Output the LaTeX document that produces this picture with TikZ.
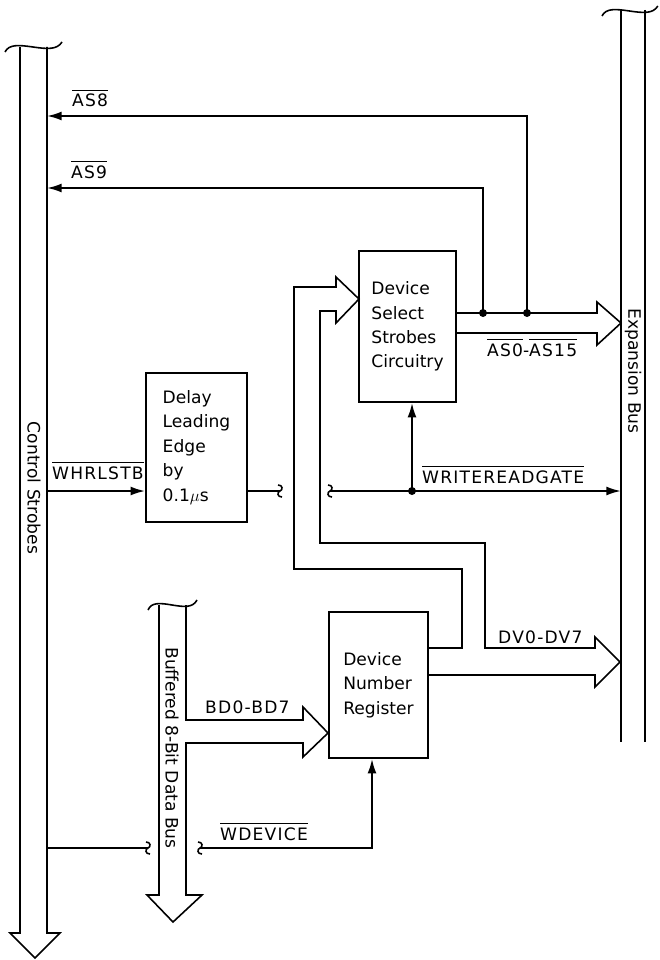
\documentclass[tikz,border=0pt]{standalone}
\usepackage{amsmath}
\usepackage{fontspec}
\setmainfont{DejaVu Sans}
\newfontfamily\sigfont[LetterSpace=7]{DejaVu Sans}
\usetikzlibrary{arrows.meta}
\newcommand\ovl[1]{\leavevmode\vbox{\hrule height 0.9pt \kern 2.6pt \hbox{#1}}}

\begin{document}
\begin{tikzpicture}[x=0.3mm, y=-0.3mm,
    font=\fontsize{14.6}{20.8}\selectfont,
    bline/.style={line width=1.35pt},
    sline/.style={line width=1.8pt},
    sig/.style={sline, -{Latex[length=4.4mm,width=2.7mm]}},
    blk/.style={draw, line width=1.35pt, align=left, inner sep=0pt},
    lbl/.style={font=\sigfont\fontsize{14.6}{17}\selectfont, inner sep=0pt, anchor=base west},
    vlbl/.style={rotate=-90, inner sep=0pt},
    dot/.style={circle, fill, inner sep=0pt, minimum size=2.4mm},
    buscap/.pic={\draw[bline] (0,5) .. controls (4,-3) and (14,-2) .. (28,0) .. controls (42,2) and (52,3) .. (57,-5);},
    brkmark/.pic={\draw[bline] (-2,-6) .. controls (3,-6) and (3,-1) .. (0,0) .. controls (-3,1) and (-3,6) .. (2,6);}]
    \useasboundingbox (0,0) rectangle (659,960);
    % Control Strobes
    \draw[bline] (20,47) -- (20,933) -- (10,933) -- (35,958) -- (60,933) -- (47,933) -- (47,47);
    \pic at (5,47) {buscap};
    \node[vlbl] (cslbl) at (34,488) {Control Strobes};
    \coordinate (cs8) at (47,116);
    \coordinate (cs9) at (47,188);
    \coordinate (cswh) at (47,491);
    \coordinate (cswd) at (47,848);
    % Expansion Bus
    \draw[bline] (621,10) -- (621,742);
    \draw[bline] (645,10) -- (645,742);
    \pic[xscale=0.98] at (602,11) {buscap};
    \node[vlbl] (exlbl) at (633,371) {Expansion Bus};
    \coordinate (exwr) at (621,491);
    % Buffered 8-Bit Data Bus
    \draw[bline] (186,605) -- (186,720) -- (303,720) -- (303,707) -- (328,733) -- (303,757)
      -- (303,743) -- (186,743) -- (186,895) -- (202,895) -- (173,922) -- (147,895)
      -- (159,895) -- (159,605);
    \pic[xscale=0.86] at (148,605) {buscap};
    \node[vlbl] (bdlbl) at (172,748) {Buffered 8-Bit Data Bus};
    % Blocs
    \node[blk, minimum width=29.1mm, minimum height=45.3mm] (dss) at (407.5,326.5)
      {Device\\Select\\Strobes\\Circuitry};
    \node[blk, minimum width=30.3mm, minimum height=44.7mm] (dly) at (196.5,447.5)
      {Delay\\Leading\\Edge\\by\\0.1$\mu$s};
    \node[blk, minimum width=29.7mm, minimum height=43.8mm] (dnr) at (378.5,685)
      {Device\\Number\\Register};
    % Wide buses
    \draw[bline] (456,313) -- (597,313) -- (597,302) -- (621,323) -- (597,345) -- (597,333) -- (456,333);
    \draw[bline] (428,648) -- (462,648) -- (462,569) -- (294,569) -- (294,287) -- (336,287)
      -- (336,277) -- (359,299) -- (336,323) -- (336,311) -- (320,311) -- (320,543)
      -- (485,543) -- (485,648) -- (595,648) -- (595,637) -- (620,662) -- (595,687)
      -- (595,675) -- (428,675);
    % Signals
    \node[dot] (d9) at (483,313) {};
    \node[dot] (d8) at (527,313) {};
    \node[dot] (dwr) at (412,491) {};
    \coordinate (bk1) at (280,491);
    \coordinate (bk2) at (330,491);
    \coordinate (bk3) at (148,848);
    \coordinate (bk4) at (200,848);
    \coordinate (wdv) at (372,848);
    \draw[sig] (d8.center) |- (cs8);
    \draw[sig] (d9.center) |- (cs9);
    \draw[sig] (cswh) -- (dly.west |- cswh);
    \draw[sline] (dly.east |- cswh) -- (bk1);
    \draw[sig] (bk2) -- (exwr);
    \draw[sig] (dwr.center) -- (dss.south -| dwr);
    \draw[sline] (cswd) -- (bk3);
    \draw[sig] (bk4) -- (wdv) -- (dnr.south -| wdv);
    \pic at (bk1) {brkmark};
    \pic at (bk2) {brkmark};
    \pic at (bk3) {brkmark};
    \pic at (bk4) {brkmark};
    % Labels
    \node[lbl] (l8) at (72,107) {\ovl{AS8}};
    \node[lbl] (l9) at (71,178) {\ovl{AS9}};
    \node[lbl] (lwh) at (52,479) {\ovl{WHRLSTB}};
    \node[lbl] (lwr) at (422,483) {\ovl{WRITEREADGATE}};
    \node[lbl] (las) at (487,356) {\ovl{AS0}-\ovl{AS15}};
    \node[lbl] (ldv) at (498,643) {DV0-DV7};
    \node[lbl] (lbd) at (205,713) {BD0-BD7};
    \node[lbl] (lwd) at (220,840) {\ovl{WDEVICE}};
\end{tikzpicture}
\end{document}
